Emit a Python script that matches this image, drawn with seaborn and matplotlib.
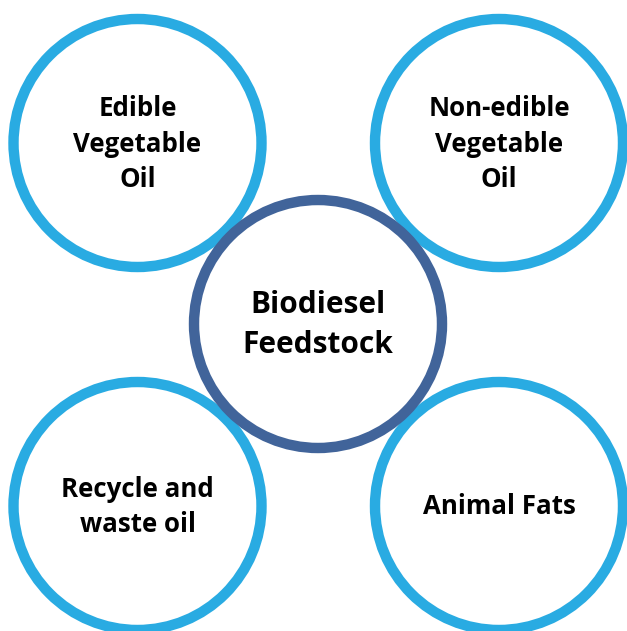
import matplotlib
matplotlib.use("Agg")
import matplotlib.pyplot as plt
from matplotlib.patches import Circle
import seaborn as sns

# Diagram content
center_label = "Biodiesel\nFeedstock"
outer_labels = ["Edible\nVegetable\nOil", "Non-edible\nVegetable\nOil",
                "Recycle and\nwaste oil", "Animal Fats"]

# Layout (pixel coordinates)
outer_x = [137.5, 499, 137.5, 499]
outer_y = [143, 143, 506, 506]
center_xy = (318, 324)
radius = 124

sns.set_theme(style="white")
plt.rcParams['font.family'] = ['Open Sans', 'DejaVu Sans']

fig = plt.figure(figsize=(6.27, 6.31), dpi=100)
ax = fig.add_axes([0, 0, 1, 1])
ax.set_xlim(0, 627)
ax.set_ylim(631, 0)
ax.set_aspect('equal')
ax.axis('off')

light = "#29ABE2"
dark = "#41649A"

for x, y, lab in zip(outer_x, outer_y, outer_labels):
    ax.add_patch(Circle((x, y), radius, fill=False, edgecolor=light, linewidth=7.5, zorder=2))
    ax.text(x, y + 1, lab, ha='center', va='center', fontsize=18.6, fontweight='bold',
            color='black', linespacing=1.4, zorder=4)

ax.add_patch(Circle(center_xy, radius, facecolor='white', edgecolor=dark, linewidth=7.5, zorder=3))
ax.text(center_xy[0], center_xy[1] + 1, center_label, ha='center', va='center', fontsize=21.5,
        fontweight='bold', color='black', linespacing=1.42, zorder=4)

fig.savefig("out.png", dpi=100)
